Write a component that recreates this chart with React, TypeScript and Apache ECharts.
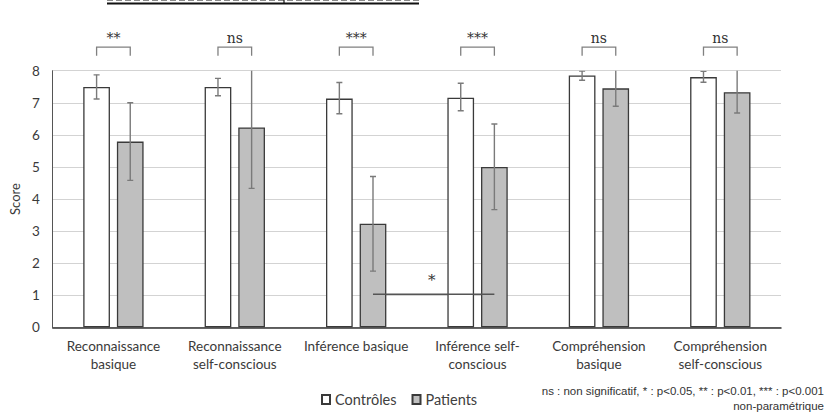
import React, { useEffect, useRef } from "react";
import * as echarts from "echarts";

const categories = [
  "Reconnaissance\nbasique",
  "Reconnaissance\nself-conscious",
  "Inférence basique",
  "Inférence self-\nconscious",
  "Compréhension\nbasique",
  "Compréhension\nself-conscious",
];
const controls = [7.49, 7.49, 7.13, 7.16, 7.85, 7.80];
const patients = [5.79, 6.23, 3.23, 5.0, 7.45, 7.33];
const controlsErrLow = [7.12, 7.22, 6.66, 6.75, 7.7, 7.64];
const controlsErrHigh = [7.87, 7.76, 7.63, 7.61, 7.99, 7.98];
const patientsErrLow = [4.58, 4.33, 1.75, 3.67, 6.89, 6.68];
const patientsErrHigh = [7.0, 8.2, 4.7, 6.34, 8.1, 8.1];
const sigLabels = ["**", "ns", "***", "***", "ns", "ns"];
const yTicks = [0, 1, 2, 3, 4, 5, 6, 7, 8];
// between-group comparison: [fromCategory, toCategory, level]
const crossComparison = [[2, 3, 1.03]];
const crossLabel = "*";
const noteLine1 = "ns : non significatif, * : p<0.05, ** : p<0.01, *** : p<0.001";
const noteLine2 = "non-paramétrique";

const BAR_W = 0.22;
const BAR_GAP = 0.26;
const offsetFrac = (BAR_W * (1 + BAR_GAP)) / 2;

function errorRender(sign: number) {
  return (params: any, api: any) => {
    const idx = api.value(0);
    const lo = api.coord([idx, api.value(1)]);
    const hi = api.coord([idx, api.value(2)]);
    const band = api.size([1, 0])[0];
    const x = lo[0] + sign * band * offsetFrac;
    const cap = 3;
    const style = { stroke: "#7a7a7a", lineWidth: 1.4 };
    return {
      type: "group",
      children: [
        { type: "line", shape: { x1: x, y1: lo[1], x2: x, y2: hi[1] }, style },
        { type: "line", shape: { x1: x - cap, y1: lo[1], x2: x + cap, y2: lo[1] }, style },
        { type: "line", shape: { x1: x - cap, y1: hi[1], x2: x + cap, y2: hi[1] }, style },
      ],
    };
  };
}

export default function App() {
  const ref = useRef<HTMLDivElement>(null);
  useEffect(() => {
    document.body.style.margin = "0";
    const chart = echarts.init(ref.current!, null, { renderer: "svg" });
    const option: any = {
      animation: false,
      backgroundColor: "#ffffff",
      textStyle: { fontFamily: "Lato" },
      grid: { left: 51, right: 44, top: 70.7, bottom: 84.7 },
      legend: {
        left: 316,
        top: 387,
        itemWidth: 8,
        itemHeight: 9,
        itemGap: 15,
        icon: "rect",
        textStyle: { fontFamily: "Lato", fontSize: 14.5, color: "#404040" },
        data: ["Contrôles", "Patients"],
      },
      xAxis: {
        type: "category",
        data: categories,
        axisLine: { lineStyle: { color: "#333", width: 1.5 } },
        axisTick: { show: false },
        axisLabel: {
          interval: 0,
          margin: 10,
          fontFamily: "Lato",
          fontSize: 13.5,
          lineHeight: 18,
          color: "#3a3a3a",
        },
      },
      yAxis: {
        type: "value",
        min: 0,
        max: 8,
        interval: 1,
        name: "Score",
        nameLocation: "middle",
        nameGap: 26,
        nameTextStyle: { fontFamily: "Lato", fontSize: 13, color: "#3a3a3a" },
        axisLine: { show: true, lineStyle: { color: "#555", width: 1 } },
        axisTick: { show: false },
        axisLabel: {
          fontFamily: "Lato",
          fontSize: 13.5,
          color: "#3a3a3a",
          margin: 13,
          formatter: (v: number) => (yTicks.includes(v) ? String(v) : ""),
        },
        splitLine: { lineStyle: { color: "#d3d3d3", width: 1 } },
      },
      series: [
        {
          name: "Contrôles",
          type: "bar",
          data: controls,
          barWidth: BAR_W * 100 + "%",
          barGap: BAR_GAP * 100 + "%",
          itemStyle: { color: "#ffffff", borderColor: "#3a3a3a", borderWidth: 1.3 },
        },
        {
          name: "Patients",
          type: "bar",
          data: patients,
          barWidth: BAR_W * 100 + "%",
          itemStyle: { color: "#bfbfbf", borderColor: "#3a3a3a", borderWidth: 1.3 },
        },
        {
          type: "custom",
          name: "errC",
          clip: true,
          renderItem: errorRender(-1),
          data: controls.map((_, i) => [i, controlsErrLow[i], controlsErrHigh[i]]),
          z: 5,
        },
        {
          type: "custom",
          name: "errP",
          clip: true,
          renderItem: errorRender(1),
          data: patients.map((_, i) => [i, patientsErrLow[i], patientsErrHigh[i]]),
          z: 5,
        },
        {
          type: "custom",
          name: "sig",
          clip: false,
          renderItem: (params: any, api: any) => {
            const idx = api.value(0);
            const base = api.coord([idx, 8]);
            const band = api.size([1, 0])[0];
            const x1 = base[0] - band * offsetFrac;
            const x2 = base[0] + band * offsetFrac;
            const yTop = base[1] - 23.5;
            const yBot = base[1] - 15;
            const style = { stroke: "#808080", lineWidth: 1.3, fill: null };
            return {
              type: "group",
              children: [
                {
                  type: "polyline",
                  shape: { points: [[x1, yBot], [x1, yTop], [x2, yTop], [x2, yBot]] },
                  style,
                },
                {
                  type: "text",
                  style: {
                    text: sigLabels[params.dataIndex],
                    x: (x1 + x2) / 2,
                    y: yTop - 2,
                    align: "center",
                    verticalAlign: "bottom",
                    fontFamily: "DejaVu Serif",
                    fontSize: 14,
                    fill: "#333",
                  },
                },
              ],
            };
          },
          data: sigLabels.map((_, i) => [i]),
          z: 6,
        },
        {
          type: "custom",
          name: "cross",
          clip: false,
          renderItem: (params: any, api: any) => {
            const a = api.coord([api.value(0), api.value(2)]);
            const b = api.coord([api.value(1), api.value(2)]);
            const band = api.size([1, 0])[0];
            const xa = a[0] + band * offsetFrac;
            const xb = b[0] + band * offsetFrac;
            return {
              type: "group",
              children: [
                {
                  type: "line",
                  shape: { x1: xa, y1: a[1], x2: xb, y2: b[1] },
                  style: { stroke: "#555", lineWidth: 1.6 },
                },
                {
                  type: "text",
                  style: {
                    text: crossLabel,
                    x: (xa + xb) / 2 - 2,
                    y: a[1] - 7,
                    align: "center",
                    verticalAlign: "bottom",
                    fontFamily: "DejaVu Serif",
                    fontSize: 15,
                    fill: "#333",
                  },
                },
              ],
            };
          },
          data: crossComparison,
          z: 6,
        },
      ],
      graphic: [
        {
          type: "line",
          shape: { x1: 107, y1: 3.5, x2: 419, y2: 3.5 },
          style: { stroke: "#111", lineWidth: 2.2 },
        },
        {
          type: "line",
          shape: { x1: 107, y1: 0.5, x2: 419, y2: 0.5 },
          style: { stroke: "#888", lineWidth: 1, lineDash: [6, 3] },
        },
        {
          type: "line",
          shape: { x1: 284, y1: 0, x2: 284, y2: 4 },
          style: { stroke: "#111", lineWidth: 1.2 },
        },
        {
          type: "text",
          right: 1,
          top: 385,
          style: {
            text: noteLine1,
            fontFamily: "Liberation Sans",
            fontSize: 11.5,
            fill: "#333",
          },
        },
        {
          type: "text",
          right: 1,
          top: 399.5,
          style: {
            text: noteLine2,
            fontFamily: "Liberation Sans",
            fontSize: 11.5,
            fill: "#333",
          },
        },
      ],
    };
    chart.setOption(option);
    return () => chart.dispose();
  }, []);
  return <div ref={ref} style={{ width: 825, height: 412 }} />;
}
